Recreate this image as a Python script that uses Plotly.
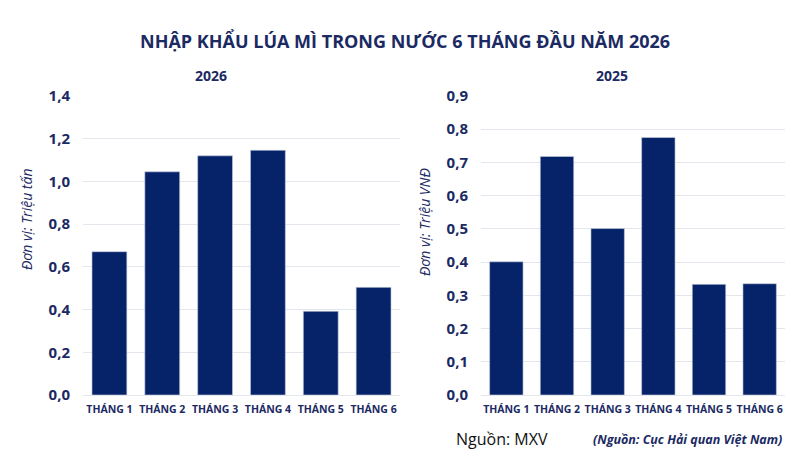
import plotly.graph_objects as go

months = ["THÁNG 1", "THÁNG 2", "THÁNG 3", "THÁNG 4", "THÁNG 5", "THÁNG 6"]
vals_2026 = [0.671, 1.045, 1.120, 1.146, 0.392, 0.504]
vals_2025 = [0.401, 0.718, 0.501, 0.775, 0.333, 0.335]

NAVY = "#06236A"
TXT = "#1B2A63"
GRID = "#E4E6EE"
FONT = "Open Sans"

fig = go.Figure()
fig.add_trace(go.Bar(x=months, y=vals_2026, marker=dict(color=NAVY, line=dict(width=0.6, color="#C9D0E0")),
                     xaxis="x", yaxis="y", showlegend=False))
fig.add_trace(go.Bar(x=months, y=vals_2025, marker=dict(color=NAVY, line=dict(width=0.6, color="#C9D0E0")),
                     xaxis="x2", yaxis="y2", showlegend=False))

ydom = [1 - 395 / 449, 1 - 96 / 449]
xt = dict(tickfont=dict(family=FONT, size=10.5, color=TXT, weight="bold"), showgrid=False,
          showline=False, ticks="", automargin=False, ticklabelstandoff=6)
yt = dict(tickfont=dict(family=FONT, size=15, color=TXT, weight="bold"), showgrid=True,
          gridcolor=GRID, gridwidth=1, zeroline=True, zerolinecolor=GRID, zerolinewidth=1,
          showline=False, ticks="", ticklabelstandoff=12, tickformat=".1f", domain=ydom,
          automargin=False)

fig.update_layout(
    width=800, height=449, margin=dict(l=0, r=0, t=0, b=0, autoexpand=False),
    paper_bgcolor="white", plot_bgcolor="white",
    separators=",.", bargap=0.34,
    xaxis=dict(domain=[83 / 800, 400 / 800], anchor="y", **xt),
    xaxis2=dict(domain=[481 / 800, 785 / 800], anchor="y2", **xt),
    yaxis=dict(range=[0, 1.4], dtick=0.2, anchor="x", **yt),
    yaxis2=dict(range=[0, 0.9], dtick=0.1, anchor="x2", **yt),
)

ann = [
    dict(text="NHẬP KHẨU LÚA MÌ TRONG NƯỚC 6 THÁNG ĐẦU NĂM 2026", x=405 / 800, y=1 - 41 / 449,
         font=dict(family=FONT, size=18, color=TXT, weight="bold")),
    dict(text="2026", x=211 / 800, y=1 - 75 / 449, font=dict(family=FONT, size=14, color=TXT, weight="bold")),
    dict(text="2025", x=612 / 800, y=1 - 75 / 449, font=dict(family=FONT, size=14, color=TXT, weight="bold")),
    dict(text="Đơn vị: Triệu tấn", x=27 / 800, y=1 - 220 / 449, textangle=-90,
         font=dict(family=FONT, size=14, color=TXT, style="italic")),
    dict(text="Đơn vị: Triệu VNĐ", x=424 / 800, y=1 - 222 / 449, textangle=-90,
         font=dict(family=FONT, size=14, color=TXT, style="italic")),
    dict(text="Nguồn: MXV", x=502 / 800, y=1 - 439 / 449,
         font=dict(family=FONT, size=16, color="#111111")),
    dict(text="(Nguồn: Cục Hải quan Việt Nam)", x=687 / 800, y=1 - 439 / 449,
         font=dict(family=FONT, size=12.5, color=TXT, weight="bold", style="italic")),
]
for a in ann:
    a.update(xref="paper", yref="paper", showarrow=False, xanchor="center", yanchor="middle")
fig.update_layout(annotations=ann)

fig.write_html("out.html")
